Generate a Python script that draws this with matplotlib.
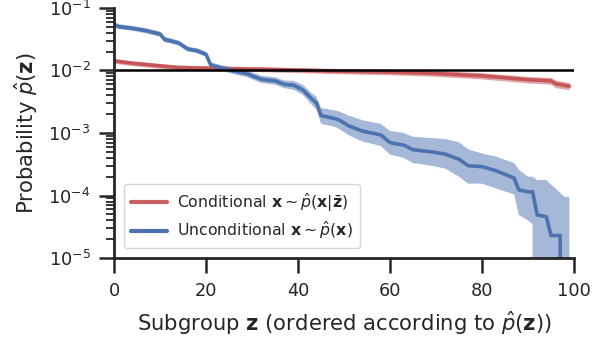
import numpy as np
import matplotlib
matplotlib.use("Agg")
import matplotlib.pyplot as plt
import seaborn as sns

sns.set_style("ticks")
plt.rcParams['font.family'] = ['DejaVu Sans']

# conditional sampling (red)
cond_x = [0, 4, 10, 14, 21, 33, 47, 60, 69, 80, 90, 95, 96, 99]
cond_mean = [0.0142, 0.0130, 0.0118, 0.0111, 0.0108, 0.0104, 0.0098,
             0.0094, 0.0090, 0.0082, 0.0071, 0.0068, 0.0061, 0.0056]
cond_hi = [0.0155, 0.0142, 0.0129, 0.0122, 0.0118, 0.0114, 0.0108,
           0.0104, 0.0100, 0.0092, 0.0080, 0.0077, 0.0070, 0.0064]
cond_lo = [0.0130, 0.0119, 0.0108, 0.0101, 0.0098, 0.0095, 0.0089,
           0.0085, 0.0081, 0.0073, 0.0063, 0.0060, 0.0053, 0.0049]

# unconditional sampling (blue)
unc_x = [0, 1, 4, 7, 10, 11, 12, 14, 16, 18, 20, 21, 23, 26, 29, 30, 32, 35,
         37, 39, 41, 43, 44, 45, 48, 49, 51, 54, 58, 60, 63, 65, 69, 72, 75,
         77, 80, 83, 87, 88, 90, 91, 92, 94, 95, 96, 97, 98, 99]
unc_mean = [0.054, 0.050, 0.047, 0.043, 0.038, 0.031, 0.030, 0.0275, 0.022,
            0.0207, 0.018, 0.0122, 0.0111, 0.0098, 0.0088, 0.0082, 0.0072,
            0.0068, 0.0060, 0.0058, 0.0049, 0.0035, 0.0030, 0.0019, 0.0017,
            0.0016, 0.0013, 0.00107, 0.00093, 0.0007, 0.00064, 0.00054,
            0.0005, 0.00046, 0.00038, 0.0003, 0.00029, 0.00025, 0.00019,
            0.000123, 0.000115, 0.000115, 4.9e-5, 4.6e-5, 2.3e-5, 2.3e-5,
            2.3e-5, 0.0, 0.0]
unc_hi = [0.059, 0.055, 0.0515, 0.047, 0.0418, 0.034, 0.033, 0.030, 0.024,
          0.0227, 0.0198, 0.0135, 0.0123, 0.0110, 0.0099, 0.0093, 0.0082,
          0.0078, 0.0069, 0.0068, 0.0059, 0.0043, 0.0038, 0.0025, 0.0023,
          0.0022, 0.0019, 0.0016, 0.0014, 0.00108, 0.0010, 0.00087,
          0.00083, 0.0008, 0.00071, 0.00055, 0.00047, 0.00042, 0.00033,
          0.00026, 0.0002, 0.0002, 0.000177, 0.000177, 0.00015, 0.00013,
          0.00011, 9.5e-5, 9.5e-5]
unc_lo = [0.049, 0.0455, 0.043, 0.039, 0.0345, 0.0282, 0.0273, 0.025, 0.020,
          0.0188, 0.0164, 0.011, 0.010, 0.0087, 0.0078, 0.0072, 0.0063,
          0.0059, 0.0052, 0.0049, 0.0041, 0.0028, 0.0024, 0.0014, 0.00125,
          0.00115, 0.00092, 0.00073, 0.00062, 0.00045, 0.0004, 0.00033,
          0.0003, 0.00027, 0.0002, 0.000155, 0.000155, 0.00013, 0.000104,
          4.9e-5, 4.0e-5, 3.5e-5, 0.0, 0.0, 0.0, 0.0, 0.0, 0.0, 0.0]

red = "#C44E52"
blue = "#4C72B0"
ink = "#262626"

fig = plt.figure(figsize=(6.01, 3.41), dpi=100)
ax = fig.add_axes([0.19, 0.243, 0.765, 0.734])

ax.fill_between(cond_x, cond_lo, cond_hi, color=red, alpha=0.5, lw=0)
ax.plot(cond_x, cond_mean, color=red, lw=2.6, alpha=0.9,
        label=r"Conditional $\mathbf{x} \sim \hat{p}(\mathbf{x}|\bar{\mathbf{z}})$")
ax.fill_between(unc_x, unc_lo, unc_hi, color=blue, alpha=0.5, lw=0)
ax.plot(unc_x, unc_mean, color=blue, lw=2.6,
        label=r"Unconditional $\mathbf{x} \sim \hat{p}(\mathbf{x})$")
ax.axhline(0.01, color="black", lw=1.8)

ax.set_yscale("log")
ax.set_ylim(1e-5, 1e-1)
ax.set_xlim(0, 100)
ax.set_xticks([0, 20, 40, 60, 80, 100])

ax.set_xlabel(r"Subgroup $\mathbf{z}$ (ordered according to $\hat{p}(\mathbf{z})$)",
              fontsize=15.2, color=ink, labelpad=7)
ax.set_ylabel(r"Probability $\hat{p}(\mathbf{z})$", fontsize=15.2, color=ink,
              labelpad=6)

ax.tick_params(which="major", length=11, width=1.8, labelsize=12.8,
               colors=ink, pad=6)
ax.tick_params(which="minor", length=6, width=1.3, colors=ink)
for s in ["left", "bottom"]:
    ax.spines[s].set_linewidth(2.0)
    ax.spines[s].set_color(ink)
sns.despine(ax=ax)

leg = ax.legend(loc="lower left", bbox_to_anchor=(0.005, 0.008), fontsize=11.3,
                handlelength=2.3, handletextpad=0.6, borderpad=0.45,
                labelspacing=0.35)
for h in leg.get_lines():
    h.set_linewidth(3)

fig.savefig("out.png", dpi=100)
